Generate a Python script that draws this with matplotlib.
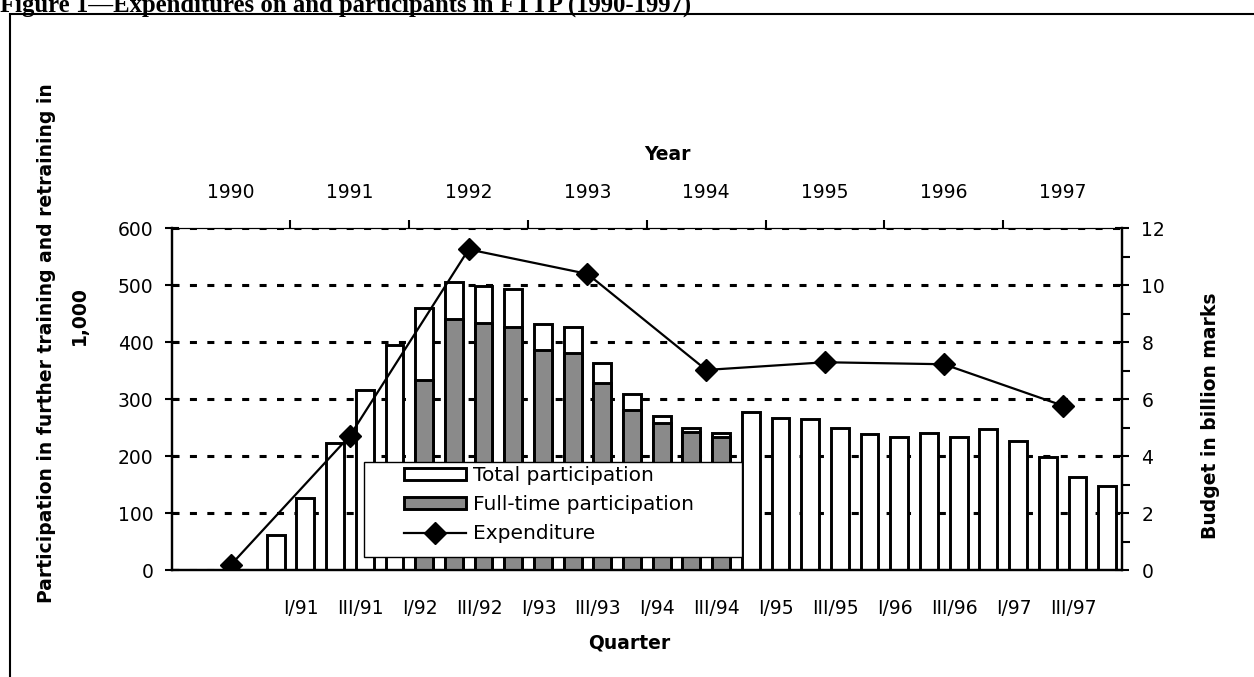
import numpy as np
import matplotlib
matplotlib.use('Agg')
from matplotlib import pyplot as plt
from matplotlib.patches import Rectangle

# quarters with participation data, IV/90 .. IV/97 (in 1,000)
quarters = ['IV/90',
            'I/91', 'II/91', 'III/91', 'IV/91',
            'I/92', 'II/92', 'III/92', 'IV/92',
            'I/93', 'II/93', 'III/93', 'IV/93',
            'I/94', 'II/94', 'III/94', 'IV/94',
            'I/95', 'II/95', 'III/95', 'IV/95',
            'I/96', 'II/96', 'III/96', 'IV/96',
            'I/97', 'II/97', 'III/97', 'IV/97']
total = [62,
         127, 224, 316, 395,
         461, 506, 499, 493,
         432, 427, 364, 309,
         270, 249, 240, 277,
         267, 265, 249, 239,
         234, 240, 233, 248,
         227, 198, 164, 148]
fulltime = [None,
            None, None, None, None,
            334, 440, 433, 427,
            386, 382, 328, 281,
            258, 243, 233, None,
            None, None, None, None,
            None, None, None, None,
            None, None, None, None]

quarter_labels = ['I/91', 'III/91', 'I/92', 'III/92', 'I/93', 'III/93', 'I/94',
                  'III/94', 'I/95', 'III/95', 'I/96', 'III/96', 'I/97', 'III/97']

years = ['1990', '1991', '1992', '1993', '1994', '1995', '1996', '1997']
expenditure = [0.2, 4.72, 11.26, 10.4, 7.03, 7.3, 7.23, 5.78]  # billion marks

W, H = 1254, 677
plt.rcParams['font.family'] = 'DejaVu Sans'
fig = plt.figure(figsize=(W / 100, H / 100), dpi=100)

# axis box in pixels: x 171.7..1122, y 228.3..570.3
ax = fig.add_axes([171.7 / W, (H - 570.3) / H, (1122 - 171.7) / W, 342 / H])

# one slot per quarter, I/90 is slot 0
n_slots = 32
first = n_slots - len(quarters)
xs = [first + i + 0.5 for i in range(len(quarters))]
ft_x = [x for x, v in zip(xs, fulltime) if v is not None]
ft_v = [v for v in fulltime if v is not None]
year_x = [2 + 4 * i for i in range(len(years))]
lab_x = [quarters.index(q) + first + 0.35 for q in quarter_labels]

ax.bar(xs, total, width=0.6, color='white', edgecolor='black', linewidth=2.1,
       zorder=2, label='Total participation')
ax.bar(ft_x, ft_v, width=0.6, color='#8a8a8a', edgecolor='black', linewidth=2.1,
       zorder=3, label='Full-time participation')

ax.set_xlim(0, n_slots)
ax.set_ylim(0, 600)
ax.set_yticks(range(0, 601, 100))
ax.grid(axis='y', color='black', linewidth=2.2, linestyle=(0, (2.3, 3.4)))
ax.set_axisbelow(True)
ax.set_xticks(lab_x, labels=quarter_labels)
ax.tick_params(axis='x', length=0, pad=21, labelsize=13.5)
ax.tick_params(axis='y', direction='inout', length=10, width=1.5, pad=8, labelsize=13.5)
for s in ['left', 'right', 'bottom']:
    ax.spines[s].set_linewidth(1.6)
ax.spines['top'].set_linewidth(0.8)

ax2 = ax.twinx()
ax2.plot(year_x, expenditure, color='black', linewidth=1.6, marker='D',
         markersize=11, zorder=5, label='Expenditure')
ax2.set_ylim(0, 12)
ax2.set_yticks(range(0, 13, 2))
ax2.set_yticks(range(1, 13, 2), minor=True)
ax2.tick_params(axis='y', which='major', direction='inout', length=10, width=1.5,
                pad=9, labelsize=13.5)
ax2.tick_params(axis='y', which='minor', direction='out', length=6, width=1.5)
for s in ['left', 'right', 'bottom']:
    ax2.spines[s].set_linewidth(1.6)
ax2.spines['top'].set_visible(False)

# year axis on top
top = ax.secondary_xaxis('top')
top.set_xticks([4 * i for i in range(1, 8)], labels=[''] * 7)
top.set_xticks(year_x, labels=years, minor=True)
top.tick_params(which='major', direction='out', length=6, width=1.5)
top.tick_params(which='minor', length=0, pad=19, labelsize=13.5)
top.spines['top'].set_linewidth(0.8)

# legend with its own box
ax2.add_patch(Rectangle((364 / W, 1 - 557 / H), 378 / W, 95 / H,
                        transform=fig.transFigure, facecolor='white',
                        edgecolor='black', linewidth=1, clip_on=False, zorder=6))
h1, l1 = ax.get_legend_handles_labels()
h2, l2 = ax2.get_legend_handles_labels()
leg = ax2.legend(h1 + h2, l1 + l2, loc='upper left',
                 bbox_to_anchor=(404 / W, 1 - 466 / H),
                 bbox_transform=fig.transFigure, frameon=False, fontsize=14.5,
                 borderpad=0, borderaxespad=0, handlelength=3.1,
                 handleheight=0.55, handletextpad=0.35, labelspacing=0.5)
leg.set_zorder(7)

fig.text(667 / W, 1 - 155 / H, 'Year', fontsize=13.5, fontweight='bold',
         ha='center', va='center')
fig.text(629 / W, 1 - 643 / H, 'Quarter', fontsize=13.5, fontweight='bold',
         ha='center', va='center')
fig.text(47 / W, 1 - 343 / H, 'Participation in further training and retraining in',
         fontsize=13.5, fontweight='bold', rotation=90, ha='center', va='center')
fig.text(79 / W, 1 - 316 / H, '1,000', fontsize=13.5, fontweight='bold',
         rotation=90, ha='center', va='center')
fig.text(1211 / W, 1 - 416 / H, 'Budget in billion marks', fontsize=13.5,
         fontweight='bold', rotation=90, ha='center', va='center')

# title, partly cut off at the top as in the source page
fig.text(0, 1 - 12 / H, 'Figure 1\u2014Expenditures on and participants in FTTP (1990-1997)',
         family='Liberation Serif', fontsize=17.8, fontweight='bold',
         ha='left', va='baseline')

# frame round the chart
fig.add_artist(Rectangle((10 / W, -0.1), 1.2, 1 - 14 / H + 0.1,
                         transform=fig.transFigure, fill=False,
                         edgecolor='black', linewidth=1.5, clip_on=False))

fig.savefig('out.png', dpi=100)
